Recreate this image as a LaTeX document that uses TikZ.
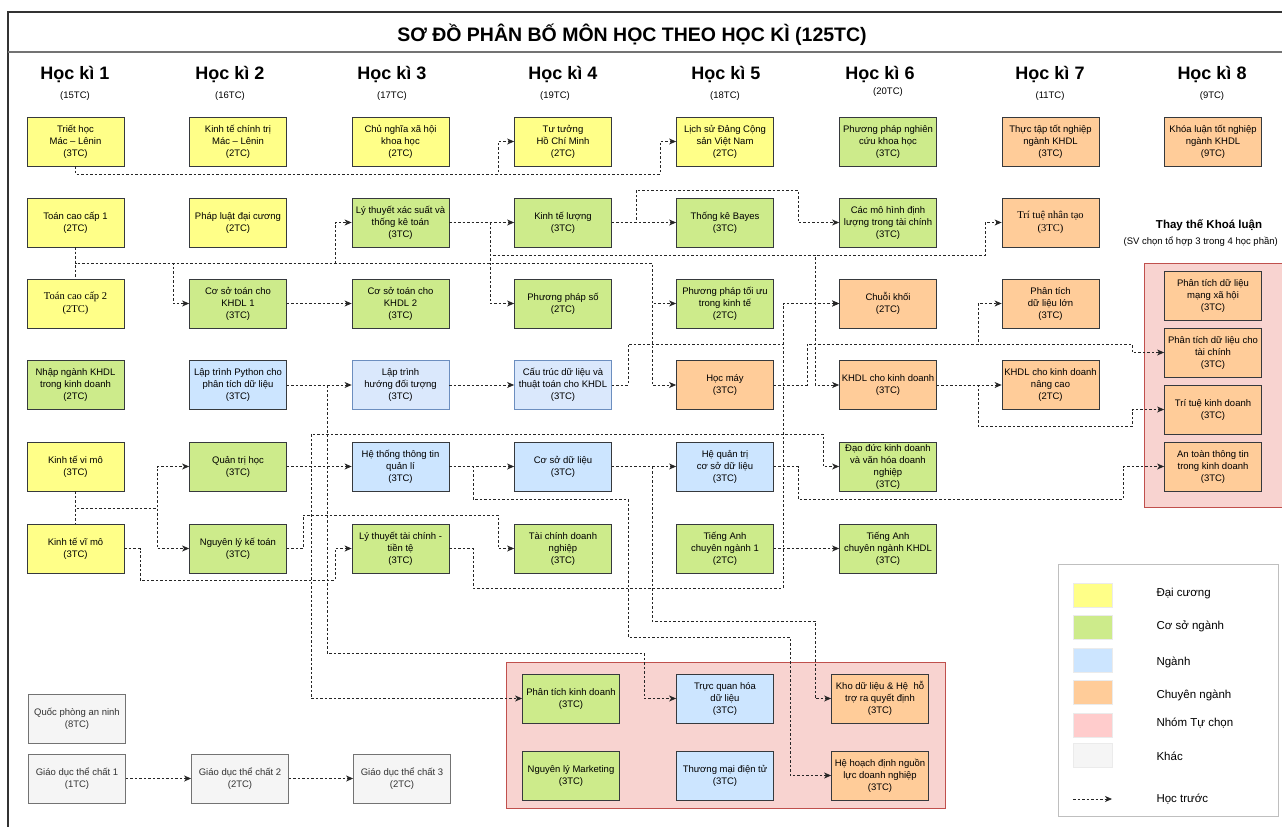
\documentclass[tikz,border=0pt]{standalone}
\usepackage{fontspec}
\setmainfont{Liberation Sans}
\newfontfamily\serifbox{Liberation Serif}
\usetikzlibrary{arrows.meta}
\definecolor{dcYellow}{HTML}{FFFF88}
\definecolor{csnGreen}{HTML}{CDEB8B}
\definecolor{ngBlue}{HTML}{CCE5FF}
\definecolor{ngLight}{HTML}{DAE8FC}
\definecolor{ngLightLine}{HTML}{6C8EBF}
\definecolor{cnOrange}{HTML}{FFCC99}
\definecolor{khGray}{HTML}{F5F5F5}
\definecolor{boxLine}{HTML}{36393D}
\definecolor{grpPink}{HTML}{F8D3D0}
\definecolor{grpLine}{HTML}{C0504D}
\definecolor{lgPink}{HTML}{FFCCCC}

\begin{document}
\begin{tikzpicture}[x=1pt,y=-1pt,
	every node/.style={font=\fontsize{9.5}{12}\selectfont},
	course/.style={draw=boxLine,line width=0.8pt,minimum width=97pt,minimum height=49pt,align=center,inner sep=1pt},
	dcbox/.style={course,fill=dcYellow},
	csnbox/.style={course,fill=csnGreen},
	ngbox/.style={course,fill=ngBlue},
	nglbox/.style={course,fill=ngLight,draw=ngLightLine},
	cnbox/.style={course,fill=cnOrange},
	khbox/.style={course,fill=khGray,draw=black!55,text=black!80},
	hkhead/.style={font=\fontsize{18}{20}\selectfont\bfseries},
	tcnote/.style={font=\fontsize{9.5}{11}\selectfont},
	prereq/.style={draw=black!85,line width=0.8pt,dash pattern=on 2.5pt off 2pt,-{Stealth[length=7pt,width=6pt,inset=2pt]}},
	joinline/.style={draw=black!85,line width=0.8pt,dash pattern=on 2.5pt off 2pt}]
	\useasboundingbox (0,0) rectangle (1282,827);
	\clip (0,0) rectangle (1282,827);
	\fill[white] (0,0) rectangle (1282,827);
	\draw[line width=1.5pt,draw=black!80] (8,840) -- (8,12) -- (1300,12);
	\draw[line width=2pt,draw=black!55] (8,52) -- (1300,52);
	\node[font=\fontsize{19.5}{22}\selectfont\bfseries] (title) at (632,35) {SƠ ĐỒ PHÂN BỐ MÔN HỌC THEO HỌC KÌ (125TC)};
	\foreach \x/\tx/\ty/\n/\c in {75/75/96/1/15, 230/230/96/2/16, 392/392/96/3/17, 563/555/96/4/19, 726/725/96/5/18, 880/888/92/6/20, 1050/1050/96/7/11, 1212/1212/96/8/9} {
		\node[hkhead] (hk\n) at (\x,75) {Học kì \n};
		\node[tcnote] (tc\n) at (\tx,\ty) {(\c TC)};
	}
	\draw[fill=grpPink,draw=grpLine,line width=0.8pt] (1144,263) rectangle (1300,507);
	\draw[fill=grpPink,draw=grpLine,line width=0.8pt] (506,662) rectangle (945,808);
	\node[font=\fontsize{11.5}{13}\selectfont\bfseries] (thaythe) at (1209,225) {Thay thế Khoá luận};
	\node[tcnote,anchor=east,inner sep=0pt] (thaythesub) at (1278,242) {(SV chọn tổ hợp 3 trong 4 học phần)};

	\node[dcbox] (triet) at (75.5,141.5) {Triết học\\Mác – Lênin\\(3TC)};
	\node[dcbox] (tcc1) at (75.5,222.5) {Toán cao cấp 1\\(2TC)};
	\node[dcbox,font=\serifbox\fontsize{10.5}{12.5}\selectfont] (tcc2) at (75.5,303.5) {Toán cao cấp 2\\(2TC)};
	\node[csnbox] (nhapnganh) at (75.5,385) {Nhập ngành KHDL\\trong kinh doanh\\(2TC)};
	\node[dcbox] (micro) at (75.5,466.5) {Kinh tế vi mô\\(3TC)};
	\node[dcbox] (macro) at (75.5,548.5) {Kinh tế vĩ mô\\(3TC)};

	\node[dcbox] (ktct) at (238,141.5) {Kinh tế chính trị\\Mác – Lênin\\(2TC)};
	\node[dcbox] (pldc) at (238,222.5) {Pháp luật đại cương\\(2TC)};
	\node[csnbox] (cst1) at (238,303.5) {Cơ sở toán cho\\KHDL 1\\(3TC)};
	\node[ngbox] (python) at (238,385) {Lập trình Python cho\\phân tích dữ liệu\\(3TC)};
	\node[csnbox] (qth) at (238,466.5) {Quản trị học\\(3TC)};
	\node[csnbox] (nlkt) at (238,548.5) {Nguyên lý kế toán\\(3TC)};

	\node[dcbox] (cnxh) at (400.5,141.5) {Chủ nghĩa xã hội\\khoa học\\(2TC)};
	\node[csnbox] (ltxs) at (400.5,222.5) {Lý thuyết xác suất và\\thống kê toán\\(3TC)};
	\node[csnbox] (cst2) at (400.5,303.5) {Cơ sở toán cho\\KHDL 2\\(3TC)};
	\node[nglbox] (oop) at (400.5,385) {Lập trình\\hướng đối tượng\\(3TC)};
	\node[ngbox] (httt) at (400.5,466.5) {Hệ thống thông tin\\quản lí\\(3TC)};
	\node[csnbox] (lttc) at (400.5,548.5) {Lý thuyết tài chính -\\tiền tệ\\(3TC)};

	\node[dcbox] (tthcm) at (563,141.5) {Tư tưởng\\Hồ Chí Minh\\(2TC)};
	\node[csnbox] (ktl) at (563,222.5) {Kinh tế lượng\\(3TC)};
	\node[csnbox] (pps) at (563,303.5) {Phương pháp số\\(2TC)};
	\node[nglbox] (ctdl) at (563,385) {Cấu trúc dữ liệu và\\thuật toán cho KHDL\\(3TC)};
	\node[ngbox] (csdl) at (563,466.5) {Cơ sở dữ liệu\\(3TC)};
	\node[csnbox] (tcdn) at (563,548.5) {Tài chính doanh\\nghiệp\\(3TC)};

	\node[dcbox] (lsd) at (725,141.5) {Lịch sử Đảng Cộng\\sản Việt Nam\\(2TC)};
	\node[csnbox] (bayes) at (725,222.5) {Thống kê Bayes\\(3TC)};
	\node[csnbox] (pptu) at (725,303.5) {Phương pháp tối ưu\\trong kinh tế\\(2TC)};
	\node[cnbox] (hocmay) at (725,385) {Học máy\\(3TC)};
	\node[ngbox] (hqt) at (725,466.5) {Hệ quản trị\\cơ sở dữ liệu\\(3TC)};
	\node[csnbox] (ta1) at (725,548.5) {Tiếng Anh\\chuyên ngành 1\\(2TC)};

	\node[csnbox] (ppnc) at (888,141.5) {Phương pháp nghiên\\cứu khoa học\\(3TC)};
	\node[csnbox] (cmh) at (888,222.5) {Các mô hình định\\lượng trong tài chính\\(3TC)};
	\node[cnbox] (chuoi) at (888,303.5) {Chuỗi khối\\(2TC)};
	\node[cnbox] (khdlkd) at (888,385) {KHDL cho kinh doanh\\(3TC)};
	\node[csnbox] (ddkd) at (888,466.5) {Đạo đức kinh doanh\\và văn hóa doanh\\nghiệp\\(3TC)};
	\node[csnbox] (ta2) at (888,548.5) {Tiếng Anh\\chuyên ngành KHDL\\(3TC)};

	\node[cnbox] (thuctap) at (1050.5,141.5) {Thực tập tốt nghiệp\\ngành KHDL\\(3TC)};
	\node[cnbox,font=\serifbox\fontsize{10.5}{12.5}\selectfont] (ttnt) at (1050.5,222.5) {Trí tuệ nhân tạo\\(3TC)};
	\node[cnbox] (ptdll) at (1050.5,303.5) {Phân tích\\dữ liệu lớn\\(3TC)};
	\node[cnbox] (khdlnc) at (1050.5,385) {KHDL cho kinh doanh\\nâng cao\\(2TC)};

	\node[cnbox] (khoaluan) at (1213,141.5) {Khóa luận tốt nghiệp\\ngành KHDL\\(9TC)};
	\node[cnbox] (ptmxh) at (1213,296) {Phân tích dữ liệu\\mạng xã hội\\(3TC)};
	\node[cnbox] (ptdltc) at (1213,352.5) {Phân tích dữ liệu cho\\tài chính\\(3TC)};
	\node[cnbox] (ttkd) at (1213,409.5) {Trí tuệ kinh doanh\\(3TC)};
	\node[cnbox] (attt) at (1213,466.5) {An toàn thông tin\\trong kinh doanh\\(3TC)};

	\node[csnbox] (ptkd) at (571,698.5) {Phân tích kinh doanh\\(3TC)};
	\node[ngbox] (tqh) at (725,698.5) {Trực quan hóa\\dữ liệu\\(3TC)};
	\node[cnbox] (kho) at (880,698.5) {Kho dữ liệu \& Hệ\ \ hỗ\\trợ ra quyết định\\(3TC)};
	\node[csnbox] (nlmk) at (571,775.5) {Nguyên lý Marketing\\(3TC)};
	\node[ngbox] (tmdt) at (725,775.5) {Thương mại điện tử\\(3TC)};
	\node[cnbox] (hhd) at (880,775.5) {Hệ hoạch định nguồn\\lực doanh nghiệp\\(3TC)};

	\node[khbox] (qpan) at (77,718.5) {Quốc phòng an ninh\\(8TC)};
	\node[khbox] (gd1) at (77,778.5) {Giáo dục thể chất 1\\(1TC)};
	\node[khbox] (gd2) at (240,778.5) {Giáo dục thể chất 2\\(2TC)};
	\node[khbox] (gd3) at (402,778.5) {Giáo dục thể chất 3\\(2TC)};

	\foreach \u/\v in {ltxs/ktl, ktl/bayes, cst1/cst2, python/oop, oop/ctdl, khdlkd/khdlnc, qth/httt, httt/csdl, csdl/hqt, ta1/ta2, gd1/gd2, gd2/gd3} {\draw[prereq] (\u) -- (\v);}
	\foreach \u/\v in {tcc1/tcc2, micro/macro} {\draw[joinline] (\u) -- (\v);}

	\draw[prereq] (triet.south) |- (498,174) |- (tthcm.west);
	\draw[prereq] (triet.south) |- (660,174) |- (lsd.west);
	\draw[prereq] (tcc1.south) |- (173,263) |- (cst1.west);
	\draw[prereq] (tcc1.south) |- (335,263) |- (ltxs.west);
	\draw[prereq] (tcc1.south) |- (652,263) |- (pptu.west);
	\draw[prereq] (tcc1.south) |- (652,263) |- (hocmay.west);
	\draw[prereq] (ltxs.east) -- (490,222.5) |- (pps.west);
	\draw[prereq] (ltxs.east) -- (490,222.5) |- (815,255) |- (khdlkd.west);
	\draw[prereq] (ltxs.east) -- (490,222.5) |- (985,255) |- (ttnt.west);
	\draw[prereq] (ktl.east) -- (636,222.5) |- (798,190) |- (cmh.west);
	\draw[prereq] (python.east) -- (327,385) |- (644,653) |- (tqh.west);
	\draw[prereq] (ctdl.east) -- (628,385) |- (783,344) |- (chuoi.west);
	\draw[prereq] (hocmay.east) -- (807,385) |- (978,344) |- (ptdll.west);
	\draw[prereq] (hocmay.east) -- (807,385) |- (1132,344) |- (ptdltc.west);
	\draw[prereq] (khdlkd.east) -- (978,385) |- (1132,426) |- (ttkd.west);
	\draw[prereq] (micro.south) |- (157,508) |- (qth.west);
	\draw[prereq] (micro.south) |- (157,508) |- (nlkt.west);
	\draw[prereq] (qth.east) -- (311,466.5) |- (823,434) |- (ddkd.west);
	\draw[prereq] (qth.east) -- (311,466.5) |- (ptkd.west);
	\draw[prereq] (nlkt.east) -- (303,548.5) |- (498,515) |- (tcdn.west);
	\draw[prereq] (macro.east) -- (140,548.5) |- (335,580) |- (lttc.west);
	\draw[prereq] (lttc.east) -- (473,548.5) |- (783,588) |- (chuoi.west);
	\draw[prereq] (httt.east) -- (473,466.5) |- (628,499) |- (790,637) |- (hhd.west);
	\draw[prereq] (csdl.east) -- (652,466.5) |- (815,621) |- (kho.west);
	\draw[prereq] (hqt.east) -- (798,466.5) |- (1123,499) |- (attt.west);

	\draw[fill=white,draw=black!25,line width=0.8pt] (1058,564) rectangle (1278,816);
	\foreach \col/\sy/\ly/\txt [count=\i] in {dcYellow/595.5/594/Đại cương, csnGreen/627.5/626/Cơ sở ngành, ngBlue/660.5/662/Ngành, cnOrange/692.5/695/Chuyên ngành, lgPink/725.5/723/Nhóm Tự chọn, khGray/755.5/756/Khác} {
		\node[fill=\col,draw=black!8,minimum width=39pt,minimum height=24pt,inner sep=0pt] (sw\i) at (1092.5,\sy) {};
		\node[font=\fontsize{11.5}{13}\selectfont,anchor=west] (lg\i) at (1153,\ly) {\txt};
	}
	\coordinate (lgfrom) at (1073,799);
	\coordinate (lgto) at (1112,799);
	\draw[prereq] (lgfrom) -- (lgto);
	\node[font=\fontsize{11.5}{13}\selectfont,anchor=west] (lgpre) at (1153,799) {Học trước};
\end{tikzpicture}
\end{document}
